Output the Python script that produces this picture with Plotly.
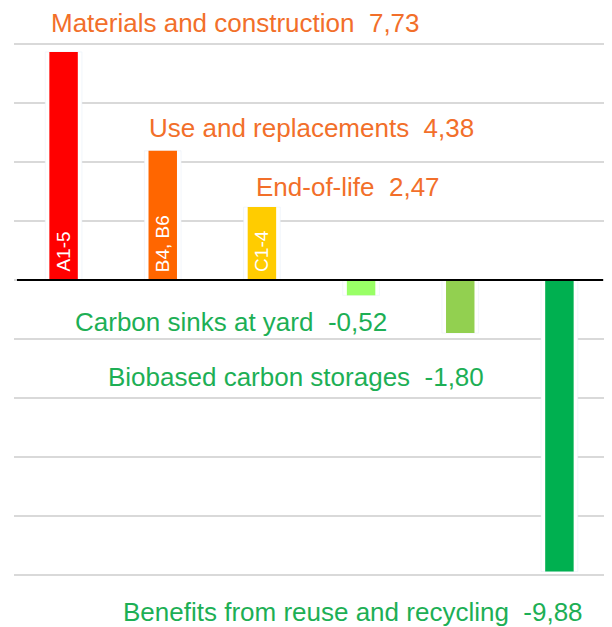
import plotly.graph_objects as go

# Life-cycle stages and their carbon values
STAGES = [
    "Materials and construction",
    "Use and replacements",
    "End-of-life",
    "Carbon sinks at yard",
    "Biobased carbon storages",
    "Benefits from reuse and recycling",
]
MODULES = ["A1-5", "B4, B6", "C1-4", "", "", ""]
VALUES = [7.73, 4.38, 2.47, -0.52, -1.80, -9.88]

BAR_COLORS = ["#FF0000", "#FF6600", "#FFCC00", "#99FF66", "#92D050", "#00B050"]
ORANGE_TXT = "#F26F2A"
GREEN_TXT = "#1DAF55"

# label anchor positions (data units), left-aligned
LABEL_X = [-0.147, 0.841, 1.920, 0.095, 0.428, 0.579]
LABEL_Y = [8.71, 5.15, 3.15, -1.43, -3.29, -11.26]

YMIN, YMAX = -10.1, 8.1
FONT = "Liberation Sans, Arial, sans-serif"
xs = list(range(len(VALUES)))

fig = go.Figure()
# white halo behind each bar (breaks the gridlines like the original)
fig.add_trace(go.Bar(x=xs, y=VALUES, width=0.37, marker_color="white",
                     hoverinfo="skip"))
fig.add_trace(go.Bar(
    x=xs, y=VALUES, width=0.287,
    marker=dict(color=BAR_COLORS, line=dict(width=0)),
    hoverinfo="skip",
))

# module codes written up the bars
for i, code in enumerate(MODULES):
    if code:
        fig.add_annotation(
            x=xs[i], y=0, xref="x", yref="y", text=code, textangle=-90,
            showarrow=False, xanchor="center", yanchor="bottom", yshift=6,
            font=dict(size=19, color="white", family=FONT),
        )

for i, (name, v) in enumerate(zip(STAGES, VALUES)):
    fig.add_annotation(
        x=LABEL_X[i], y=(LABEL_Y[i] - YMIN) / (YMAX - YMIN),
        xref="x", yref="y domain",
        text=f"{name}  {v:.2f}".replace(".", ","),
        showarrow=False, xanchor="left", yanchor="middle",
        font=dict(size=26, color=ORANGE_TXT if v > 0 else GREEN_TXT, family=FONT),
    )

fig.add_shape(type="line", xref="paper", yref="y", x0=0.005, x1=0.99, y0=0, y1=0,
              line=dict(color="black", width=2.2), layer="above")

fig.update_layout(
    width=604, height=619,
    margin=dict(l=6, r=3, t=33, b=49),
    plot_bgcolor="white", paper_bgcolor="white",
    showlegend=False, barmode="overlay",
    xaxis=dict(range=[-0.5, 5.5], showticklabels=False, showgrid=False,
               zeroline=False, ticks=""),
    yaxis=dict(range=[YMIN, YMAX], dtick=2, showticklabels=False, showgrid=True,
               gridcolor="#D9D9D9", gridwidth=1.6, zeroline=False, ticks=""),
)

fig.write_html("out.html")
